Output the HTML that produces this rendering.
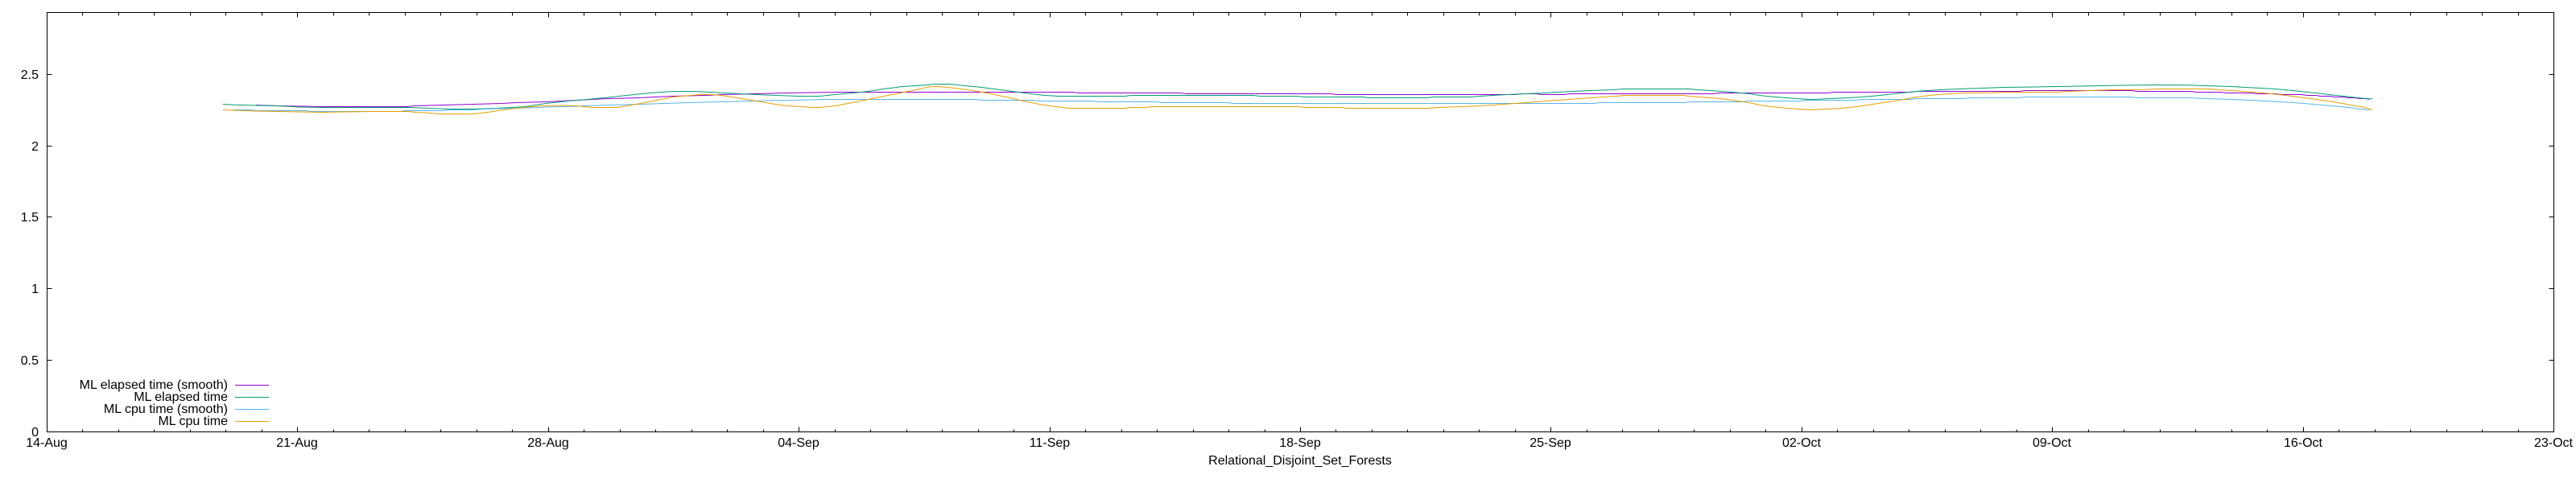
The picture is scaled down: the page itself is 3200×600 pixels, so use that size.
<!DOCTYPE html>
<html>
<head>
<meta charset="utf-8">
<style>
html,body{margin:0;padding:0;background:#fff;}
svg{display:block;}
text{font-family:"Liberation Sans",Arial,sans-serif;font-size:16px;fill:#000;}
</style>
</head>
<body>
<svg width="3200" height="600" viewBox="0 0 3200 600" xmlns="http://www.w3.org/2000/svg">
<rect x="0" y="0" width="3200" height="600" fill="#fff"/>

<!-- data -->
<g fill="none" stroke-width="1" stroke-linejoin="round" transform="translate(0,-0.3)">
<polyline stroke="#9400d3" points="318,130.8 345,131.8 400,132.8 507,132.8 514,131.8 550,130.8 587,129.8 623,128.8 641,127.8 678,126.8 698,125.8 715,124.8 736,123.8 755,122.8 793,121.8 814,120.8 835,119.8 875,118.8 897,117.8 937,116.8 978,115.8 1042,114.8 1332,114.8 1340,115.8 1466,115.8 1474,116.8 1653,116.8 1661,117.8 1882,117.8 1890,116.8 1908,116.8 1915,117.8 1943,117.8 1950,116.8 2128,116.8 2136,115.8 2270,115.8 2278,114.8 2373,114.8 2381,113.8 2508,113.8 2516,112.8 2647,112.8 2655,113.8 2721,113.8 2729,114.8 2758,114.8 2766,115.8 2796,115.8 2804,116.8 2826,116.8 2834,117.8 2859,117.8 2866,118.8 2877,118.8 2883,119.8 2894,119.8 2900,120.8 2911,120.8 2917,121.8 2925,121.8 2931,122.8 2939,122.8 2943,123.8"/>
<polyline stroke="#009e73" points="277,129.8 290,130.5 318,131.3 345,131.8 372,133.3 400,133.8 507,133.8 533,134.8 560,135.8 587,135.8 617,134.8 640,133.5 652,132.8 665,130.8 678,128.8 692,127.3 705,125.8 718,124.8 730,123.8 760,120.8 797,116.8 820,114.8 837,113.8 860,113.8 883,114.8 918,116.8 940,117.8 965,118.8 992,119.8 1018,119.8 1037,117.8 1053,116.3 1070,114.8 1085,112.8 1097,110.8 1110,109.3 1120,107.8 1137,106.8 1153,105.8 1160,104.8 1180,104.8 1198,106.8 1215,108.3 1235,110.8 1250,112.8 1265,114.8 1280,116.8 1298,118.8 1316,119.8 1397,119.8 1405,118.8 1557,118.8 1565,119.8 1612,119.8 1620,120.8 1693,120.8 1700,121.8 1773,121.8 1780,120.8 1828,120.8 1838,119.8 1855,118.8 1872,117.8 1895,116.8 1918,115.8 1935,114.8 1953,113.8 1976,112.8 2003,111.8 2017,110.8 2098,110.8 2108,111.8 2125,112.8 2138,113.8 2151,114.8 2163,115.8 2173,116.8 2180,117.8 2186,118.8 2194,119.8 2206,120.8 2219,121.8 2232,122.8 2249,123.8 2259,123.5 2272,122.8 2296,121.8 2313,120.8 2325,119.8 2335,118.8 2344,117.8 2353,116.8 2362,115.8 2371,114.8 2381,113.8 2394,112.8 2411,111.8 2434,110.8 2461,109.8 2490,108.8 2529,108.3 2556,107.8 2583,107.3 2610,106.8 2637,106.3 2677,105.8 2718,106 2740,106.8 2772,107.8 2789,108.8 2809,109.8 2826,110.8 2838,111.8 2849,112.8 2858,113.8 2867,114.8 2876,115.8 2885,116.8 2893,117.8 2902,118.8 2912,119.8 2921,120.8 2929,121.8 2940,122.8 2947,123"/>
<polyline stroke="#56b4e9" points="290,136.8 313,136.8 318,137.8 380,137.8 385,138.8 497,138.8 503,137.8 550,137.8 556,136.8 587,136.8 600,135.8 617,135.3 640,134.8 662,134 678,133.3 698,132.8 717,132.3 727,131.8 755,130.8 795,129.8 825,128.8 855,127.8 896,126.8 937,125.8 958,125 989,124.8 1020,123.8 1213,123.8 1220,124.8 1283,124.8 1290,125.8 1357,125.8 1364,126.8 1437,126.8 1444,127.8 1525,127.8 1532,128.8 1980,128.8 1987,127.8 2092,127.8 2099,126.8 2164,126.8 2171,125.8 2236,125.8 2243,124.8 2305,124.8 2312,123.8 2373,123.8 2380,122.8 2440,122.8 2447,121.8 2508,121.8 2515,120.8 2647,120.8 2654,121.8 2721,121.8 2740,122.8 2772,123.8 2796,124.8 2814,125.8 2832,126.8 2849,127.8 2862,128.8 2874,129.8 2886,130.8 2897,131.8 2908,132.8 2918,133.8 2925,134.8 2932,135.8 2943,136.8"/>
<polyline stroke="#e69f00" points="277,136.8 290,137.3 304,137.8 318,138.3 345,138.8 372,139.3 400,139.8 425,139.3 466,138.8 507,138.8 517,139.8 527,140.3 535,140.8 545,141.8 587,141.8 597,140.8 605,139.8 613,138.8 618,137.8 625,136.8 633,135.8 642,134.8 652,133.8 662,132.8 672,131.8 697,131.3 717,131.8 725,132.8 735,133.8 767,133.8 772,132.8 778,131.8 784,130.8 790,129.8 796,128.8 801,127.8 806,126.8 811,125.8 816,124.8 821,123.8 826,122.8 831,121.8 836,120.8 846,119.8 858,118.8 870,117.8 885,117.8 895,118.8 903,119.8 909,120.8 915,121.8 921,122.8 927,123.8 933,124.8 939,125.8 945,126.8 951,127.8 957,128.8 963,129.8 970,130.8 980,131.8 995,132.8 1008,133.8 1018,133.8 1027,132.8 1037,131.8 1043,130.8 1048,129.8 1053,128.8 1058,127.8 1063,126.8 1068,125.8 1073,124.8 1078,123.8 1083,122.8 1088,121.8 1093,120.8 1098,119.8 1103,118.8 1108,117.8 1113,116.8 1118,115.8 1123,114.8 1128,113.8 1133,112.8 1138,111.8 1143,110.8 1148,109.5 1153,108.3 1162,107.8 1172,108.3 1177,108.8 1186,109.8 1194,110.8 1202,111.8 1208,112.8 1215,113.8 1220,114.8 1226,115.8 1231,116.8 1236,117.8 1240,118.8 1245,119.8 1250,120.8 1254,121.8 1258,122.8 1263,123.8 1267,124.8 1271,125.8 1276,126.8 1281,127.8 1286,128.8 1291,129.8 1297,130.8 1304,131.8 1312,132.8 1320,133.8 1328,134.8 1397,134.8 1405,133.8 1423,133.8 1430,132.8 1612,132.8 1620,133.8 1666,133.8 1673,134.8 1773,134.8 1787,133.8 1815,132.8 1838,131.8 1855,130.8 1868,129.8 1882,128.8 1895,127.8 1908,126.8 1922,125.8 1935,124.8 1950,123.8 1962,122.8 1976,121.8 1990,120.8 2007,119.8 2017,118.8 2091,118.8 2098,119.8 2111,120.8 2125,121.8 2137,122.8 2145,123.8 2152,124.8 2159,125.8 2166,126.8 2172,127.8 2177,128.8 2182,129.8 2187,130.8 2193,131.8 2201,132.8 2210,133.8 2220,134.8 2232,135.8 2249,136.8 2269,135.8 2286,134.8 2298,133.8 2306,132.8 2313,131.8 2320,130.8 2326,129.8 2333,128.8 2340,127.8 2346,126.8 2353,125.8 2359,124.8 2364,123.8 2370,122.8 2375,121.8 2381,120.8 2389,119.8 2398,118.8 2408,117.8 2421,116.8 2440,115.8 2475,115.5 2490,114.8 2556,114.8 2570,113.8 2597,112.8 2625,111.8 2664,111.5 2680,110.8 2745,110.8 2755,111.8 2772,112.8 2786,113.8 2799,114.8 2811,115.8 2821,116.8 2830,117.8 2839,118.8 2847,119.8 2854,120.8 2862,121.8 2870,122.8 2877,123.8 2884,124.8 2890,125.8 2898,126.8 2904,127.8 2910,128.8 2915,129.8 2920,130.8 2926,131.8 2932,132.8 2937,133.8 2941,134.8 2945,136.3 2947,136.8"/>
</g>

<!-- axes frame -->
<g stroke="#000" stroke-width="1" fill="none" shape-rendering="crispEdges">
<rect x="58.5" y="15.5" width="3114" height="521"/>
<!-- y ticks left & right -->
<path d="M58.5 536.5h6M58.5 447.5h6M58.5 358.5h6M58.5 269.5h6M58.5 181.5h6M58.5 92.5h6
M3172.5 536.5h-6M3172.5 447.5h-6M3172.5 358.5h-6M3172.5 269.5h-6M3172.5 181.5h-6M3172.5 92.5h-6"/>
<!-- major x ticks bottom & top -->
<path d="M58.5 536.5v-6M369.5 536.5v-6M681.5 536.5v-6M992.5 536.5v-6M1304.5 536.5v-6M1615.5 536.5v-6M1926.5 536.5v-6M2238.5 536.5v-6M2549.5 536.5v-6M2861.5 536.5v-6M3172.5 536.5v-6
M58.5 15.5v6M369.5 15.5v6M681.5 15.5v6M992.5 15.5v6M1304.5 15.5v6M1615.5 15.5v6M1926.5 15.5v6M2238.5 15.5v6M2549.5 15.5v6M2861.5 15.5v6M3172.5 15.5v6"/>
<!-- minor x ticks bottom -->
<path d="M102.5 536.5v-3M147.5 536.5v-3M191.5 536.5v-3M236.5 536.5v-3M280.5 536.5v-3M325.5 536.5v-3
M414.5 536.5v-3M458.5 536.5v-3M503.5 536.5v-3M547.5 536.5v-3M592.5 536.5v-3M636.5 536.5v-3
M725.5 536.5v-3M770.5 536.5v-3M814.5 536.5v-3M859.5 536.5v-3M903.5 536.5v-3M948.5 536.5v-3
M1037.5 536.5v-3M1081.5 536.5v-3M1126.5 536.5v-3M1170.5 536.5v-3M1215.5 536.5v-3M1259.5 536.5v-3
M1348.5 536.5v-3M1393.5 536.5v-3M1437.5 536.5v-3M1482.5 536.5v-3M1526.5 536.5v-3M1571.5 536.5v-3
M1659.5 536.5v-3M1704.5 536.5v-3M1748.5 536.5v-3M1793.5 536.5v-3M1837.5 536.5v-3M1882.5 536.5v-3
M1971.5 536.5v-3M2015.5 536.5v-3M2060.5 536.5v-3M2104.5 536.5v-3M2149.5 536.5v-3M2193.5 536.5v-3
M2282.5 536.5v-3M2327.5 536.5v-3M2371.5 536.5v-3M2416.5 536.5v-3M2460.5 536.5v-3M2505.5 536.5v-3
M2594.5 536.5v-3M2638.5 536.5v-3M2683.5 536.5v-3M2727.5 536.5v-3M2772.5 536.5v-3M2816.5 536.5v-3
M2905.5 536.5v-3M2950.5 536.5v-3M2994.5 536.5v-3M3039.5 536.5v-3M3083.5 536.5v-3M3128.5 536.5v-3"/>
<!-- minor x ticks top -->
<path d="M102.5 15.5v4M147.5 15.5v4M191.5 15.5v4M236.5 15.5v4M280.5 15.5v4M325.5 15.5v4
M414.5 15.5v4M458.5 15.5v4M503.5 15.5v4M547.5 15.5v4M592.5 15.5v4M636.5 15.5v4
M725.5 15.5v4M770.5 15.5v4M814.5 15.5v4M859.5 15.5v4M903.5 15.5v4M948.5 15.5v4
M1037.5 15.5v4M1081.5 15.5v4M1126.5 15.5v4M1170.5 15.5v4M1215.5 15.5v4M1259.5 15.5v4
M1348.5 15.5v4M1393.5 15.5v4M1437.5 15.5v4M1482.5 15.5v4M1526.5 15.5v4M1571.5 15.5v4
M1659.5 15.5v4M1704.5 15.5v4M1748.5 15.5v4M1793.5 15.5v4M1837.5 15.5v4M1882.5 15.5v4
M1971.5 15.5v4M2015.5 15.5v4M2060.5 15.5v4M2104.5 15.5v4M2149.5 15.5v4M2193.5 15.5v4
M2282.5 15.5v4M2327.5 15.5v4M2371.5 15.5v4M2416.5 15.5v4M2460.5 15.5v4M2505.5 15.5v4
M2594.5 15.5v4M2638.5 15.5v4M2683.5 15.5v4M2727.5 15.5v4M2772.5 15.5v4M2816.5 15.5v4
M2905.5 15.5v4M2950.5 15.5v4M2994.5 15.5v4M3039.5 15.5v4M3083.5 15.5v4M3128.5 15.5v4"/>
</g>

<!-- y labels -->
<g text-anchor="end">
<text x="48" y="542">0</text>
<text x="48" y="453">0.5</text>
<text x="48" y="364">1</text>
<text x="48" y="275">1.5</text>
<text x="48" y="187">2</text>
<text x="48" y="98">2.5</text>
</g>

<!-- x labels -->
<g text-anchor="middle">
<text x="58" y="555">14-Aug</text>
<text x="369" y="555">21-Aug</text>
<text x="681" y="555">28-Aug</text>
<text x="992" y="555">04-Sep</text>
<text x="1304" y="555">11-Sep</text>
<text x="1615" y="555">18-Sep</text>
<text x="1926" y="555">25-Sep</text>
<text x="2238" y="555">02-Oct</text>
<text x="2549" y="555">09-Oct</text>
<text x="2861" y="555">16-Oct</text>
<text x="3172" y="555">23-Oct</text>
<text x="1615" y="577">Relational_Disjoint_Set_Forests</text>
</g>

<!-- legend -->
<g text-anchor="end">
<text x="283" y="483">ML elapsed time (smooth)</text>
<text x="283" y="498">ML elapsed time</text>
<text x="283" y="513">ML cpu time (smooth)</text>
<text x="283" y="528">ML cpu time</text>
</g>
<g stroke-width="1" shape-rendering="crispEdges">
<line x1="292" y1="478.5" x2="334" y2="478.5" stroke="#9400d3"/>
<line x1="292" y1="493.5" x2="334" y2="493.5" stroke="#009e73"/>
<line x1="292" y1="508.5" x2="334" y2="508.5" stroke="#56b4e9"/>
<line x1="292" y1="523.5" x2="334" y2="523.5" stroke="#e69f00"/>
</g>
</svg>
</body>
</html>
